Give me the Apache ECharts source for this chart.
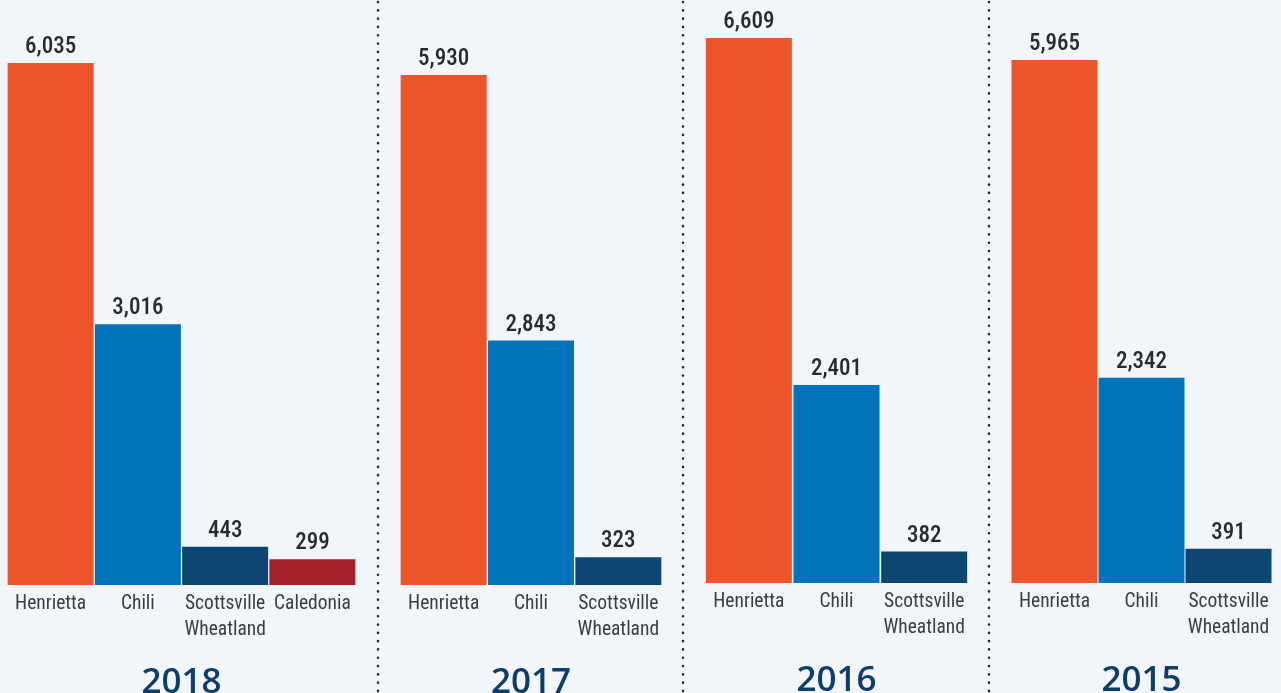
<!DOCTYPE html>
<html><head><meta charset="utf-8">
<script src="https://cdn.jsdelivr.net/npm/echarts@6/dist/echarts.min.js"></script>
<style>html,body{margin:0;padding:0;background:#f2f5fa;}#c{width:1281px;height:693px;}</style>
</head><body><div id="c"></div>
<script>
// ---- data ----
const years = ['2018', '2017', '2016', '2015'];
const cats2018 = ['Henrietta', 'Chili', 'Scottsville Wheatland', 'Caledonia'];
const vals2018 = [6035, 3016, 443, 299];
const cats2017 = ['Henrietta', 'Chili', 'Scottsville Wheatland'];
const vals2017 = [5930, 2843, 323];
const cats2016 = ['Henrietta', 'Chili', 'Scottsville Wheatland'];
const vals2016 = [6609, 2401, 382];
const cats2015 = ['Henrietta', 'Chili', 'Scottsville Wheatland'];
const vals2015 = [5965, 2342, 391];

// ---- styling / layout ----
const colorOf = {
  'Henrietta': '#ec542a',
  'Chili': '#0273bb',
  'Scottsville Wheatland': '#0d4670',
  'Caledonia': '#a1202a'
};
const panels = [
  { cats: cats2018, vals: vals2018, left: 7,    width: 349, top: 63, bottom: 108 },
  { cats: cats2017, vals: vals2017, left: 400,  width: 262, top: 75, bottom: 108 },
  { cats: cats2016, vals: vals2016, left: 705,  width: 263, top: 38, bottom: 110 },
  { cats: cats2015, vals: vals2015, left: 1011, width: 261, top: 60, bottom: 110 }
];
const condensed = "'Roboto Condensed','Liberation Sans Narrow','DejaVu Sans Condensed',Roboto,sans-serif";
const separators = [378, 683, 989];

const grid = [], xAxis = [], yAxis = [], series = [];
panels.forEach((p, i) => {
  grid.push({ left: p.left, width: p.width, top: p.top, bottom: p.bottom, containLabel: false, outerBoundsMode: 'none' });
  xAxis.push({
    type: 'category', gridIndex: i, data: p.cats,
    axisLine: { show: false }, axisTick: { show: false }, splitLine: { show: false },
    axisLabel: {
      interval: 0, margin: 6, fontSize: 19.5, lineHeight: 26, color: '#3d3d3d',
      fontFamily: condensed,
      formatter: v => v.replace(' ', '\n')
    },
    name: years[i], nameLocation: 'middle', nameGap: 81,
    nameTextStyle: { fontSize: 35, fontWeight: 600, color: '#0c3d6b', fontFamily: "'Open Sans',sans-serif" }
  });
  yAxis.push({ type: 'value', gridIndex: i, min: 0, max: 'dataMax', show: false, splitLine: { show: false } });
  series.push({
    type: 'bar', xAxisIndex: i, yAxisIndex: i,
    barWidth: 86,
    data: p.vals.map((v, k) => ({ value: v, itemStyle: { color: colorOf[p.cats[k]] } })),
    label: {
      show: true, position: 'top', distance: 4,
      fontSize: 23, fontWeight: 500, color: '#2a2a2a', fontFamily: condensed,
      formatter: d => d.value.toLocaleString('en-US')
    },
    silent: true, animation: false
  });
});

const chart = echarts.init(document.getElementById('c'), null, { renderer: 'canvas' });
chart.setOption({
  backgroundColor: '#f2f5fa',
  animation: false,
  grid, xAxis, yAxis, series,
  graphic: separators.map(x => ({
    type: 'line', silent: true,
    shape: { x1: x, y1: 2, x2: x, y2: 693 },
    style: { stroke: '#2b2b2b', lineWidth: 2.6, lineDash: [0.1, 8.2], lineCap: 'round' }
  }))
});
</script>
</body></html>
